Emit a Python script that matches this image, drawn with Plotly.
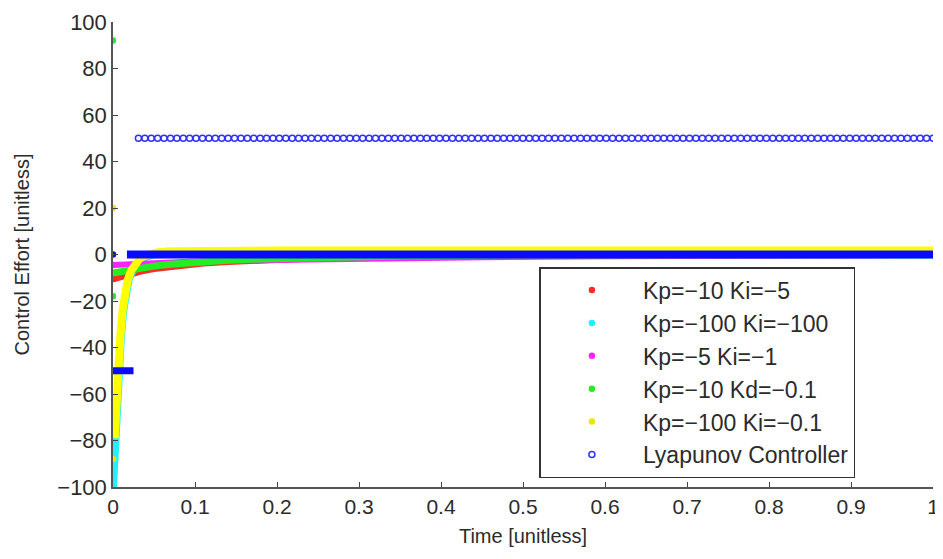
import numpy as np
import plotly.graph_objects as go

# Kp=-10 Ki=-5
red_t = [0, 0.01, 0.02, 0.035, 0.05, 0.07, 0.09, 0.11, 0.14, 0.18, 0.25, 0.35, 0.45, 0.55, 0.65, 0.8, 1.0]
red_u = [-10.5, -9.3, -8.3, -7.0, -6.0, -5.0, -4.3, -3.7, -3.0, -2.3, -1.4, -0.5, 0.2, 0.8, 1.2, 1.5, 1.6]

# Kp=-100 Ki=-100
cyan_t = [0, 0.001, 0.0025, 0.0045, 0.0065, 0.0095, 0.0125, 0.0155, 0.019, 0.023, 0.028, 0.034, 0.04, 0.05, 0.07, 0.1, 0.3, 0.6, 1.0]
cyan_u = [-100, -92, -80, -64, -52, -36, -24, -16.5, -11, -7.5, -4.5, -2.2, -1.0, 0.0, 0.3, 0.2, 0.0, 0.0, 0.0]

# Kp=-5 Ki=-1
mag_t = [0, 0.02, 0.05, 0.1, 0.15, 0.2, 0.25, 0.3, 0.35, 0.45, 0.6, 0.8, 1.0]
mag_u = [-4.5, -4.1, -3.6, -3.0, -2.6, -2.3, -2.0, -1.8, -1.6, -1.2, -0.8, -0.4, -0.2]

# Kp=-10 Kd=-0.1
green_t = [0, 0.01, 0.02, 0.035, 0.05, 0.07, 0.09, 0.11, 0.14, 0.18, 0.25, 0.35, 0.5, 0.7, 1.0]
green_u = [-8.0, -7.3, -6.6, -5.7, -5.0, -4.2, -3.6, -3.1, -2.5, -1.9, -1.2, -0.6, -0.2, 0.0, 0.0]
green_t0 = [0, 0]
green_u0 = [92, -18]

# Kp=-100 Ki=-0.1
yellow_t = [0.002, 0.004, 0.006, 0.009, 0.012, 0.015, 0.018, 0.022, 0.027, 0.032, 0.038, 0.045, 0.055, 0.07, 0.1, 0.2, 0.4, 0.7, 1.0]
yellow_u = [-79, -63, -51, -35, -23, -16, -11, -7, -4, -2.0, -0.6, 0.4, 1.0, 1.4, 1.6, 1.7, 1.7, 1.7, 1.7]
yellow_t0 = [0, 0]
yellow_u0 = [20, -88]

# Lyapunov controller
lyap_t0 = [0]
lyap_u0 = [0]
lyap_neg_t = [0, 0.025]
lyap_neg_u = [-50, -50]
lyap_zero_t = [0.017, 1.0]
lyap_zero_u = [0, 0]
lyap_high_t = np.linspace(0.031, 1.0, 125)  # sample times of the saturated steps
lyap_high_u = [50] * len(lyap_high_t)

FONT = "Liberation Sans, Arial, Helvetica, sans-serif"
TXT = "#2b2b2b"


def add_curve(fig, t, u, color, name, width=6):
    fig.add_trace(go.Scatter(
        x=t, y=u, mode="lines", line=dict(color=color, width=width),
        legendgroup=name, showlegend=False, hoverinfo="skip",
    ))


def add_dots(fig, t, u, color, name, legend=True, symbol="circle", size=5):
    fig.add_trace(go.Scatter(
        x=t, y=u, mode="markers", name=name, legendgroup=name,
        showlegend=legend,
        marker=dict(color=color, size=size, symbol=symbol, line=dict(width=1.5, color=color)),
    ))


def plot():
    fig = go.Figure()

    n = "Kp=\u221210 Ki=\u22125"
    add_curve(fig, red_t, red_u, "#ff2a2a", n, width=7)
    add_dots(fig, red_t[:1], red_u[:1], "#ff2a2a", n)

    n = "Kp=\u2212100 Ki=\u2212100"
    add_curve(fig, cyan_t, cyan_u, "#22f0ff", n, width=8)
    add_dots(fig, cyan_t[:1], cyan_u[:1], "#22f0ff", n)

    n = "Kp=\u22125 Ki=\u22121"
    add_curve(fig, mag_t, mag_u, "#ff22ff", n, width=6)
    add_dots(fig, mag_t[:1], mag_u[:1], "#ff22ff", n)

    n = "Kp=\u221210 Kd=\u22120.1"
    add_curve(fig, green_t, green_u, "#22ee22", n, width=7)
    add_dots(fig, green_t0, green_u0, "#22ee22", n)

    n = "Kp=\u2212100 Ki=\u22120.1"
    add_curve(fig, yellow_t, yellow_u, "#ffff00", n, width=8)
    add_dots(fig, yellow_t0, yellow_u0, "#e8e800", n)

    n = "Lyapunov Controller"
    add_curve(fig, lyap_neg_t, lyap_neg_u, "#0a0aff", n, width=7)
    add_curve(fig, lyap_zero_t, lyap_zero_u, "#0a0aff", n, width=8)
    add_dots(fig, lyap_t0, lyap_u0, "#0a0aff", n, legend=False)
    add_dots(fig, lyap_high_t, lyap_high_u, "#3030ff", n, symbol="circle-open", size=6)

    axis_common = dict(
        showline=True, linecolor="#555555", linewidth=1.5,
        ticks="inside", ticklen=5, tickwidth=1.2, tickcolor="#444444",
        showgrid=False, zeroline=False, automargin=False,
        title_font=dict(family=FONT, size=20, color=TXT),
    )

    # the page body has an 8px margin, so the figure is a little smaller than the window
    fig.update_layout(
        width=935, height=551,
        margin=dict(l=105, r=10, t=14, b=72),
        plot_bgcolor="white", paper_bgcolor="white",
        font=dict(family=FONT, size=20, color=TXT),
        xaxis=dict(range=[0, 1], dtick=0.1, tick0=0,
                   tickfont=dict(family=FONT, size=21, color=TXT),
                   title=dict(text="Time [unitless]", standoff=12), **axis_common),
        yaxis=dict(range=[-100, 100], dtick=20, tick0=0,
                   tickfont=dict(family=FONT, size=22, color=TXT),
                   title=dict(text="Control Effort [unitless]", standoff=22), **axis_common),
        legend=dict(
            x=0.52, y=0.473, xanchor="left", yanchor="top",
            bgcolor="white", bordercolor="#333333", borderwidth=1.5,
            font=dict(family=FONT, size=23, color=TXT),
            itemwidth=92, tracegroupgap=0,
        ),
        showlegend=True,
    )
    return fig


def main():
    fig = plot()
    fig.write_html("out.html")


if __name__ == "__main__":
    main()
